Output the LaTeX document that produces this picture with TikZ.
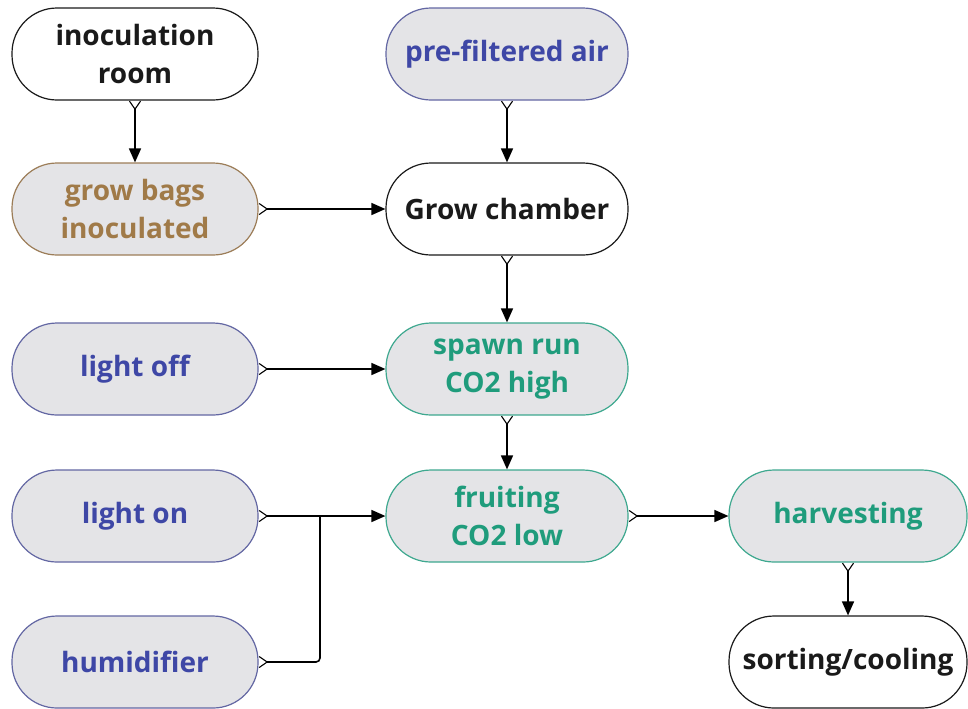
\documentclass[tikz,border=0pt]{standalone}
\usepackage{fontspec}
\setmainfont{Open Sans}
\usetikzlibrary{arrows.meta}
\definecolor{boxfill}{HTML}{E4E4E7}
\definecolor{bluetxt}{HTML}{3E47A6}
\definecolor{blueline}{HTML}{6367A3}
\definecolor{browntxt}{HTML}{A07A48}
\definecolor{brownline}{HTML}{9C7D58}
\definecolor{greentxt}{HTML}{1F9C7C}
\definecolor{greenline}{HTML}{3EA88F}
\definecolor{blacktxt}{HTML}{1A1A1A}
\tikzset{
  x=0.5pt, y=-0.5pt,
  pill/.style={rectangle, rounded corners=22.5pt, minimum height=46pt, align=center,
    font=\fontsize{14}{19}\selectfont\bfseries, line width=0.6pt, inner sep=0pt},
  whitepill/.style={pill, draw=blacktxt, fill=white, text=blacktxt},
  bluepill/.style={pill, draw=blueline, fill=boxfill, text=bluetxt},
  brownpill/.style={pill, draw=brownline, fill=boxfill, text=browntxt},
  greenpill/.style={pill, draw=greenline, fill=boxfill, text=greentxt},
  conn/.style={line width=0.8pt, draw=black,
    {Straight Barb[reversed,length=4pt,width=5.5pt,line width=0.55pt]}-{Triangle[length=7pt,width=6pt]}},
  connplain/.style={line width=0.8pt, draw=black,
    {Straight Barb[reversed,length=4pt,width=5.5pt,line width=0.55pt]}-},
}
\begin{document}
\begin{tikzpicture}
\useasboundingbox (0,0) rectangle (968,708);
% left column
\node[whitepill, minimum width=123pt] (inoc) at (135,54) {inoculation\\room};
\node[brownpill, minimum width=123pt] (bags) at (135,209) {grow bags\\inoculated};
\node[bluepill, minimum width=123pt] (loff) at (135,369) {light off};
\node[bluepill, minimum width=123pt] (lon) at (135,516) {light on};
\node[bluepill, minimum width=123pt] (hum) at (135,662) {humidifier};
% middle column
\node[bluepill, minimum width=121pt] (air) at (507,54) {pre-filtered air};
\node[whitepill, minimum width=121pt] (grow) at (507,209) {Grow chamber};
\node[greenpill, minimum width=121pt] (spawn) at (507,369) {spawn run\\CO2 high};
\node[greenpill, minimum width=121pt] (fruit) at (507,516) {fruiting\\CO2 low};
% right column
\node[greenpill, minimum width=119pt] (harv) at (848,516) {harvesting};
\node[whitepill, minimum width=119pt] (sort) at (848,662) {sorting/cooling};
% connectors
\draw[conn] (inoc) -- (bags);
\draw[conn] (bags) -- (grow);
\draw[conn] (air) -- (grow);
\draw[conn] (grow) -- (spawn);
\draw[conn] (loff) -- (spawn);
\draw[conn] (spawn) -- (fruit);
\draw[conn] (lon) -- (fruit);
\coordinate (j) at (320,516);
\draw[connplain, rounded corners=2pt] (hum.east) -| (j);
\draw[conn] (fruit) -- (harv);
\draw[conn] (harv) -- (sort);
\end{tikzpicture}
\end{document}
